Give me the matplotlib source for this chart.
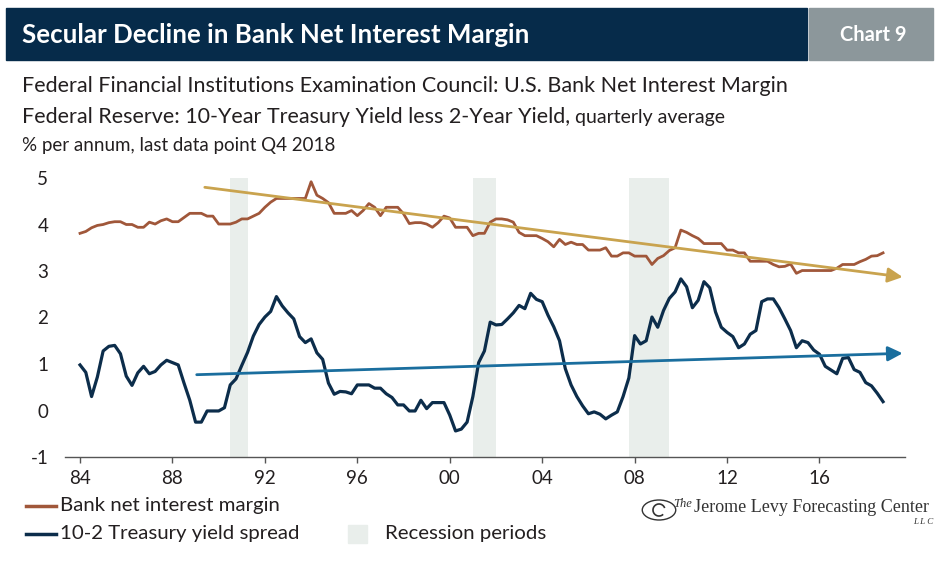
import numpy as np
import matplotlib
matplotlib.use("Agg")
from matplotlib import pyplot as plt
from matplotlib.patches import Rectangle, FancyArrowPatch, Circle, Arc

plt.rcParams['font.family'] = ['Lato', 'DejaVu Sans']
plt.rcParams['axes.unicode_minus'] = False

# quarterly data, 1984 Q1 .. 2018 Q4
start_year = 1984
nim = [3.81, 3.85, 3.93, 3.98, 4.00, 4.04, 4.06, 4.06, 4.00, 4.00,
       3.94, 3.94, 4.05, 4.01, 4.08, 4.12, 4.06, 4.06, 4.15, 4.24,
       4.24, 4.24, 4.18, 4.18, 4.01, 4.01, 4.01, 4.05, 4.12, 4.12,
       4.18, 4.24, 4.37, 4.48, 4.56, 4.56, 4.56, 4.56, 4.56, 4.56,
       4.92, 4.63, 4.56, 4.47, 4.24, 4.24, 4.24, 4.30, 4.19, 4.30,
       4.45, 4.37, 4.19, 4.37, 4.37, 4.37, 4.23, 4.02, 4.04, 4.04,
       4.01, 3.94, 4.04, 4.18, 4.14, 3.94, 3.94, 3.94, 3.76, 3.81,
       3.81, 4.05, 4.12, 4.12, 4.10, 4.05, 3.83, 3.76, 3.76, 3.76,
       3.70, 3.63, 3.52, 3.68, 3.57, 3.62, 3.57, 3.57, 3.45, 3.45,
       3.45, 3.50, 3.32, 3.32, 3.39, 3.39, 3.32, 3.32, 3.32, 3.14,
       3.27, 3.33, 3.44, 3.50, 3.88, 3.83, 3.76, 3.70, 3.59, 3.59,
       3.59, 3.59, 3.45, 3.45, 3.39, 3.39, 3.21, 3.21, 3.21, 3.21,
       3.14, 3.09, 3.10, 3.15, 2.95, 3.01, 3.01, 3.01, 3.01, 3.01,
       3.01, 3.06, 3.14, 3.14, 3.14, 3.20, 3.25, 3.32, 3.33, 3.39]
spread = [0.98, 0.82, 0.30, 0.72, 1.28, 1.38, 1.40, 1.22, 0.74, 0.54,
          0.81, 0.95, 0.79, 0.84, 0.98, 1.08, 1.03, 0.98, 0.59, 0.22,
          -0.25, -0.25, -0.01, -0.01, -0.01, 0.06, 0.55, 0.68, 0.97, 1.25,
          1.60, 1.85, 2.01, 2.13, 2.45, 2.25, 2.10, 1.97, 1.59, 1.46,
          1.54, 1.24, 1.10, 0.59, 0.35, 0.41, 0.40, 0.36, 0.55, 0.55,
          0.55, 0.48, 0.48, 0.36, 0.28, 0.12, 0.12, -0.01, -0.01, 0.22,
          0.04, 0.17, 0.17, 0.17, -0.10, -0.44, -0.40, -0.25, 0.30, 1.03,
          1.28, 1.90, 1.84, 1.85, 1.97, 2.10, 2.26, 2.19, 2.52, 2.39,
          2.34, 2.05, 1.80, 1.50, 0.90, 0.55, 0.30, 0.10, -0.07, -0.03,
          -0.08, -0.18, -0.10, -0.03, 0.30, 0.70, 1.61, 1.43, 1.50, 2.01,
          1.79, 2.15, 2.41, 2.55, 2.83, 2.66, 2.21, 2.37, 2.77, 2.64,
          2.12, 1.79, 1.68, 1.59, 1.35, 1.43, 1.64, 1.72, 2.34, 2.40,
          2.40, 2.21, 1.97, 1.72, 1.35, 1.50, 1.46, 1.30, 1.21, 0.95,
          0.87, 0.79, 1.12, 1.14, 0.88, 0.82, 0.60, 0.53, 0.37, 0.19]

recessions = [(1990.5, 1991.25), (2001.0, 2002.0), (2007.75, 2009.5)]

# trend arrows: (start year, start value, end year, end value)
nim_trend = (1989.4, 4.80, 2019.6, 2.87)
spread_trend = (1989.05, 0.77, 2019.6, 1.23)

xtick_years = [1984, 1988, 1992, 1996, 2000, 2004, 2008, 2012, 2016]
xtick_labels = ['84', '88', '92', '96', '00', '04', '08', '12', '16']
yticks = [-1, 0, 1, 2, 3, 4, 5]

legend_labels = ['Bank net interest margin', '10-2 Treasury yield spread', 'Recession periods']

title = 'Secular Decline in Bank Net Interest Margin'
chart_no = 'Chart 9'

c_nim = '#a0573a'
c_spread = '#0c2d4b'
c_gold = '#c9a34e'
c_blue = '#1a6e9e'
c_shade = '#e9eeeb'
c_navy = '#062b4a'
c_grey = '#8c979b'
c_text = '#231f20'

W, H = 939, 561
fig = plt.figure(figsize=(W / 100, H / 100), dpi=100)


def fx(px):
    return px / W


def fy(py):
    return 1 - py / H


# header bars
fig.patches.append(Rectangle((fx(6), fy(60)), fx(801), 52 / H, transform=fig.transFigure,
                             color=c_navy, zorder=0))
fig.patches.append(Rectangle((fx(809), fy(60)), fx(124), 52 / H, transform=fig.transFigure,
                             color=c_grey, zorder=0))
fig.text(fx(22), fy(35), title, color='white', fontsize=18.6, fontweight='bold', va='center')
fig.text(fx(873), fy(35), chart_no, color='white', fontsize=14.5, fontweight='bold',
         va='center', ha='center')

fig.text(fx(22), fy(86), 'Federal Financial Institutions Examination Council: U.S. Bank Net Interest Margin',
         fontsize=15.5, color=c_text, va='center')
t = fig.text(fx(22), fy(117), 'Federal Reserve: 10-Year Treasury Yield less 2-Year Yield,',
             fontsize=15.5, color=c_text, va='center')
fig.canvas.draw()
bb = t.get_window_extent()
fig.text(bb.x1 / W + fx(5), fy(118), 'quarterly average', fontsize=14, color=c_text, va='center')
fig.text(fx(22), fy(146), '% per annum, last data point Q4 2018', fontsize=13.5, color=c_text, va='center')

# main axes
ax = fig.add_axes([fx(65), fy(457), fx(905 - 65), (457 - 178) / H])
x = start_year + np.arange(len(nim)) / 4.0

for a, b in recessions:
    ax.axvspan(a, b, color=c_shade, lw=0, zorder=0)

ax.plot(x, nim, color=c_nim, lw=2.0, zorder=3)
ax.plot(x, spread, color=c_spread, lw=2.3, zorder=3)

for (x0, y0, x1, y1), c in [(nim_trend, c_gold), (spread_trend, c_blue)]:
    ax.add_patch(FancyArrowPatch((x0, y0), (x1, y1), arrowstyle='-|>', mutation_scale=22,
                                 color=c, lw=2.0, zorder=4, shrinkA=0, shrinkB=0))

ax.set_xlim(1983.35, 2019.7)
ax.set_ylim(-1, 5)
ax.set_xticks(xtick_years)
ax.set_xticklabels(xtick_labels)
ax.set_yticks(yticks)
for s in ['top', 'right', 'left']:
    ax.spines[s].set_visible(False)
ax.spines['bottom'].set_color('#555555')
ax.spines['bottom'].set_linewidth(1.0)
ax.tick_params(axis='y', length=0, labelsize=13.5, labelcolor=c_text, pad=12)
ax.tick_params(axis='x', length=4, width=1, color='#555555', labelsize=13.5,
               labelcolor=c_text, pad=5)

# legend
fig.lines.append(plt.Line2D([fx(26), fx(56)], [fy(506), fy(506)], transform=fig.transFigure,
                            color=c_nim, lw=2.5))
fig.lines.append(plt.Line2D([fx(26), fx(56)], [fy(534), fy(534)], transform=fig.transFigure,
                            color=c_spread, lw=2.5))
fig.text(fx(60), fy(506), legend_labels[0], fontsize=14.7, color=c_text, va='center')
fig.text(fx(60), fy(534), legend_labels[1], fontsize=14.7, color=c_text, va='center')
fig.patches.append(Rectangle((fx(348), fy(543)), fx(19), 18 / H, transform=fig.transFigure,
                             color=c_shade))
fig.text(fx(385), fy(534), legend_labels[2], fontsize=14.7, color=c_text, va='center')

# logo
fig.patches.append(Circle((fx(659), fy(510)), 10 / H, transform=fig.transFigure,
                          fill=False, ec='#333333', lw=1.0))
fig.patches.append(Arc((fx(659), fy(510)), 12 / W, 12 / H, theta1=30, theta2=300,
                       transform=fig.transFigure, ec='#333333', lw=1.2))
fig.text(fx(673), fy(504), 'The', fontsize=9, style='italic', family='Liberation Serif',
         color='#333333', va='center')
fig.text(fx(694), fy(508), 'Jerome Levy Forecasting Center', fontsize=13.0, family='Liberation Serif',
         color='#333333', va='center')
fig.text(fx(933), fy(522), 'L L C', fontsize=6.5, style='italic', family='Liberation Serif',
         color='#333333', va='center', ha='right')

fig.savefig('out.png', dpi=100)
